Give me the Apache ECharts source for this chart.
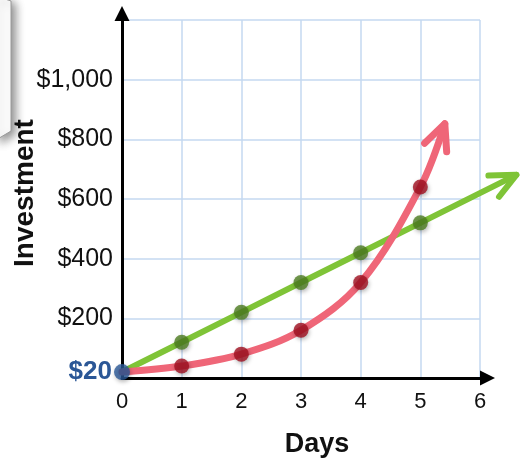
<!DOCTYPE html>
<html>
<head>
<meta charset="utf-8">
<script src="https://cdn.jsdelivr.net/npm/echarts@6/dist/echarts.min.js"></script>
<style>
  html, body { margin: 0; padding: 0; background: #ffffff; }
  #chart { width: 522px; height: 463px; }
</style>
</head>
<body>
<div id="chart"></div>
<script>
// Days on the horizontal axis
const days = [0, 1, 2, 3, 4, 5];
// Adding $100 each day
const linearValues = [20, 120, 220, 320, 420, 520];
// Doubling each day
const doublingValues = [20, 40, 80, 160, 320, 640];
// Starting amount
const startPoint = [0, 20];
// Where each trend arrow points to
const linearArrowTip = [6.61, 681];
const doublingArrowTip = [5.41, 852];
// Axis ticks
const xTicks = [0, 1, 2, 3, 4, 5, 6];
const yTicks = [200, 400, 600, 800, 1000];

const GREEN = '#7fc437';
const GREEN_DOT = '#4d7d20';
const RED = '#ef6678';
const RED_DOT = '#a00f1f';
const BLUE = '#2b5796';
const FONT = '"Liberation Sans", Arial, sans-serif';

const chart = echarts.init(document.getElementById('chart'), null, { renderer: 'canvas' });

function pairs(xs, ys) {
  return xs.map((x, i) => [x, ys[i]]);
}

// Arrow at the end of a trend line: optional straight shaft base -> tip plus an open chevron
function arrowHead(color, width, withShaft) {
  return function (params, api) {
    const base = api.coord([api.value(0), api.value(1)]);
    const tip = api.coord([api.value(2), api.value(3)]);
    const ang = Math.atan2(base[1] - tip[1], base[0] - tip[0]);
    const len = 28;
    const spread = 25 * Math.PI / 180;
    const a = [tip[0] + len * Math.cos(ang + spread), tip[1] + len * Math.sin(ang + spread)];
    const b = [tip[0] + len * Math.cos(ang - spread), tip[1] + len * Math.sin(ang - spread)];
    const style = { stroke: color, lineWidth: width, fill: null, lineCap: 'round', lineJoin: 'round' };
    const children = [];
    if (withShaft) {
      children.push({ type: 'line', shape: { x1: base[0], y1: base[1], x2: tip[0], y2: tip[1] }, style: style });
    }
    children.push({ type: 'polyline', shape: { points: [a, tip, b] }, style: style });
    return { type: 'group', children: children };
  };
}

const dotShadow = {
  shadowBlur: 4,
  shadowColor: 'rgba(0,0,0,0.35)',
  shadowOffsetX: 1,
  shadowOffsetY: 2
};

const option = {
  animation: false,
  backgroundColor: '#ffffff',
  grid: [
    { left: 122, right: 42, top: 20, bottom: 85 },
    { left: 122, right: 34.5, top: 13.5, bottom: 85 }
  ],
  xAxis: [
    {
      gridIndex: 0, type: 'value', min: 0, max: 6, interval: 1,
      axisLine: { show: false },
      axisTick: { show: false },
      axisLabel: {
        margin: 13, fontSize: 22, color: '#111', fontFamily: FONT,
        formatter: v => (xTicks.includes(v) ? String(v) : '')
      },
      splitLine: { show: true, lineStyle: { color: '#c5d9f1', width: 1.5 } }
    },
    {
      gridIndex: 1, type: 'value', min: 0, max: 1,
      axisLine: { show: true, symbol: ['none', 'triangle'], symbolSize: [15, 15], lineStyle: { color: '#000', width: 3 } },
      axisTick: { show: false }, axisLabel: { show: false }, splitLine: { show: false }
    }
  ],
  yAxis: [
    {
      gridIndex: 0, type: 'value', min: 0, max: 1200, interval: 200,
      axisLine: { show: false },
      axisTick: { show: false },
      axisLabel: {
        margin: 9, fontSize: 25, color: '#111', fontFamily: FONT,
        formatter: v => (yTicks.includes(v) ? '$' + v.toLocaleString('en-US') : '')
      },
      splitLine: { show: true, lineStyle: { color: '#c5d9f1', width: 1.5 } }
    },
    {
      gridIndex: 1, type: 'value', min: 0, max: 1,
      axisLine: { show: true, symbol: ['none', 'triangle'], symbolSize: [15, 15], lineStyle: { color: '#000', width: 3 } },
      axisTick: { show: false }, axisLabel: { show: false }, splitLine: { show: false }
    }
  ],
  graphic: [
    {
      type: 'polygon',
      shape: { points: [[-4, -4], [11, 1], [11, 131], [-4, 140]] },
      style: {
        fill: '#ffffff', stroke: '#9a9a9a', lineWidth: 1,
        shadowBlur: 10, shadowColor: 'rgba(0,0,0,0.45)', shadowOffsetX: 4, shadowOffsetY: 3
      },
      z: 1
    },
    {
      type: 'text', x: 25, y: 193, rotation: Math.PI / 2,
      style: {
        text: 'Investment', fill: '#111', font: 'bold 28px ' + FONT,
        textAlign: 'center', textVerticalAlign: 'middle'
      }
    },
    {
      type: 'text', x: 317, y: 445,
      style: {
        text: 'Days', fill: '#111', font: 'bold 27px ' + FONT,
        textAlign: 'center', textVerticalAlign: 'middle'
      }
    }
  ],
  series: [
    {
      name: 'linear', type: 'line', xAxisIndex: 0, yAxisIndex: 0,
      data: pairs(days, linearValues),
      showSymbol: false, clip: false, silent: true, z: 3,
      lineStyle: { color: GREEN, width: 6, cap: 'round' }
    },
    {
      name: 'linearArrow', type: 'custom', xAxisIndex: 0, yAxisIndex: 0,
      data: [[days[5], linearValues[5], linearArrowTip[0], linearArrowTip[1]]],
      renderItem: arrowHead(GREEN, 6, true), clip: false, silent: true, z: 3
    },
    {
      name: 'linearDots', type: 'scatter', xAxisIndex: 0, yAxisIndex: 0,
      data: pairs(days, linearValues).slice(1),
      symbolSize: 15, silent: true, z: 4,
      itemStyle: Object.assign({ color: GREEN_DOT }, dotShadow)
    },
    {
      name: 'doubling', type: 'line', xAxisIndex: 0, yAxisIndex: 0,
      data: pairs(days, doublingValues).concat([doublingArrowTip]),
      smooth: 0.35, showSymbol: false, clip: false, silent: true, z: 5,
      lineStyle: { color: RED, width: 7, cap: 'round' }
    },
    {
      name: 'doublingArrow', type: 'custom', xAxisIndex: 0, yAxisIndex: 0,
      data: [[days[5], doublingValues[5], doublingArrowTip[0], doublingArrowTip[1]]],
      renderItem: arrowHead(RED, 7, false), clip: false, silent: true, z: 5
    },
    {
      name: 'doublingDots', type: 'scatter', xAxisIndex: 0, yAxisIndex: 0,
      data: pairs(days, doublingValues).slice(1),
      symbolSize: 15, silent: true, z: 6,
      itemStyle: Object.assign({ color: RED_DOT }, dotShadow)
    },
    {
      name: 'start', type: 'scatter', xAxisIndex: 0, yAxisIndex: 0,
      data: [startPoint], symbolSize: 16, silent: true, z: 7,
      itemStyle: Object.assign({ color: BLUE }, dotShadow),
      label: {
        show: true, position: 'left', distance: 2,
        formatter: p => '$' + p.value[1],
        color: BLUE, opacity: 1, fontSize: 26, fontWeight: 'bold', fontFamily: FONT,
        textBorderWidth: 0, textShadowBlur: 0, textShadowColor: 'transparent'
      }
    }
  ]
};

chart.setOption(option);
</script>
</body>
</html>
